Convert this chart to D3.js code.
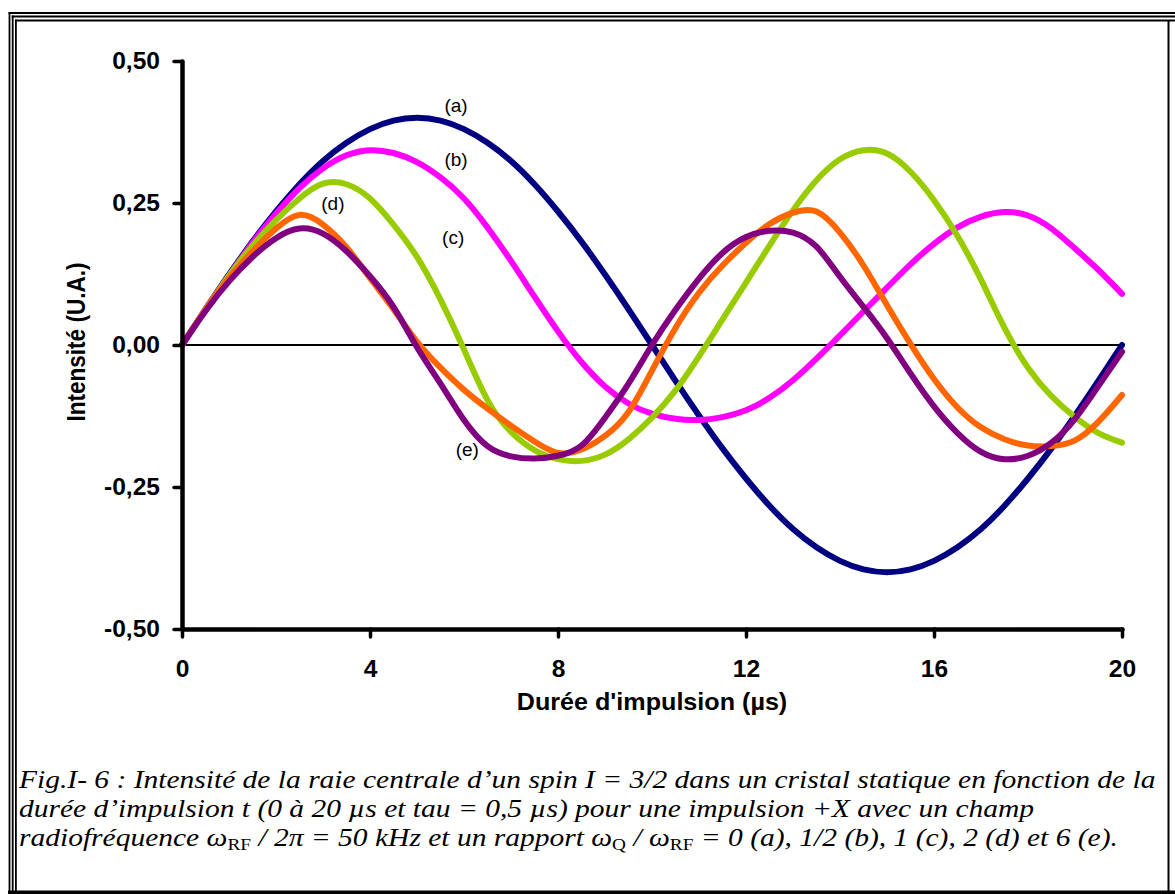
<!DOCTYPE html>
<html>
<head>
<meta charset="utf-8">
<script src="https://cdn.jsdelivr.net/npm/d3@7"></script>
<style>
body {margin:0; background:#fff;}
.axis text {font-family:"Liberation Sans",Arial,sans-serif; font-weight:bold; font-size:23px; fill:#000;}
.axis path, .axis line {stroke:#000;}
.axis_label {font-family:"Liberation Sans",Arial,sans-serif; font-weight:bold; font-size:23.5px; fill:#000;}
.curve_label {font-family:"Liberation Sans",Arial,sans-serif; font-size:19px; fill:#000;}
.caption {font-family:"Liberation Serif","Times New Roman",serif; font-style:italic; font-size:26px; fill:#000;}
</style>
</head>
<body>
<svg id="chart" width="1175" height="894"></svg>
<script>

// pulse length (µs)
var times=[0,0.5,1,1.5,2,2.5,3,3.5,4,4.5,5,5.5,6,6.5,7,7.5,8,8.5,9,9.5,10,
	10.5,11,11.5,12,12.5,13,13.5,14,14.5,15,15.5,16,16.5,17,17.5,18,18.5,19,19.5,20];

// wQ/wRF = 0
var series_a=[0,0.063,0.124,0.182,0.235,0.283,0.324,0.356,0.380,0.395,0.400,0.395,0.380,0.356,0.324,0.283,0.235,0.182,0.124,0.063,0,
	-0.063,-0.124,-0.182,-0.235,-0.283,-0.324,-0.356,-0.380,-0.395,-0.400,-0.395,-0.380,-0.356,-0.324,-0.283,-0.235,-0.182,-0.124,-0.063,0];
// wQ/wRF = 1/2
var series_b=[0,0.062,0.122,0.180,0.231,0.276,0.311,0.334,0.343,0.338,0.322,0.295,0.258,0.207,0.148,0.085,0.024,-0.030,-0.073,-0.103,-0.121,
	-0.130,-0.132,-0.127,-0.115,-0.093,-0.062,-0.024,0.017,0.059,0.101,0.142,0.178,0.207,0.226,0.234,0.228,0.205,0.170,0.132,0.090];
// wQ/wRF = 1
var series_c=[0,0.062,0.122,0.175,0.220,0.258,0.284,0.283,0.258,0.212,0.155,0.080,-0.008,-0.097,-0.153,-0.185,-0.201,-0.204,-0.193,-0.166,-0.128,
	-0.080,-0.020,0.045,0.110,0.175,0.237,0.290,0.327,0.343,0.337,0.305,0.255,0.192,0.115,0.030,-0.040,-0.090,-0.127,-0.155,-0.172];
// wQ/wRF = 2
var series_d=[0,0.062,0.118,0.165,0.205,0.229,0.212,0.172,0.118,0.063,0.006,-0.040,-0.079,-0.112,-0.142,-0.170,-0.190,-0.184,-0.160,-0.118,-0.045,
	0.030,0.092,0.140,0.180,0.213,0.233,0.235,0.198,0.140,0.070,0.002,-0.060,-0.110,-0.145,-0.166,-0.177,-0.178,-0.168,-0.135,-0.088];
// wQ/wRF = 6
var series_e=[0,0.060,0.112,0.155,0.188,0.205,0.196,0.165,0.121,0.067,-0.004,-0.068,-0.132,-0.178,-0.196,-0.200,-0.195,-0.177,-0.128,-0.068,0.000,
	0.062,0.117,0.162,0.190,0.201,0.198,0.173,0.120,0.067,0.012,-0.050,-0.108,-0.155,-0.188,-0.201,-0.195,-0.172,-0.130,-0.072,-0.012];

var series_colors=['#000080','#FF00FF','#99CC00','#FF6600','#800080'];

var curve_labels=['(a)','(b)','(c)','(d)','(e)'];
var curve_label_t=[5.83,5.83,5.77,3.21,6.07];
var curve_label_v=[0.422,0.326,0.190,0.250,-0.184];

var x_ticks=[0,4,8,12,16,20];
var y_ticks=[0.5,0.25,0,-0.25,-0.5];
var y_tick_labels=['0,50','0,25','0,00','-0,25','-0,50'];

var x_title='Durée d\'impulsion (µs)';
var y_title='Intensité (U.A.)';

var stretch=1.07; // the original text is a bit wider than Arial

var svg=d3.select('#chart');

// frame (triple line top/left)
var frame=svg.append('g');
var outer=[[9.5,13],[12.7,16.6],[15.9,20.4]];
for (var i=0; i<outer.length; i++) {
	frame.append('line').attr('x1',outer[i][0]-1).attr('y1',outer[i][1]).attr('x2',1175).attr('y2',outer[i][1])
		.attr('stroke','#000').attr('stroke-width',2);
	frame.append('line').attr('x1',outer[i][0]).attr('y1',outer[i][1]-1).attr('x2',outer[i][0]).attr('y2',894)
		.attr('stroke','#000').attr('stroke-width',1.8);
}
frame.append('line').attr('x1',8).attr('y1',892.5).attr('x2',1175).attr('y2',892.5)
	.attr('stroke','#000').attr('stroke-width',4);
frame.append('line').attr('x1',1168.5).attr('y1',20).attr('x2',1168.5).attr('y2',894)
	.attr('stroke','#000').attr('stroke-width',2);

var marg_left=182, marg_top=61;
var W0=940, H0=568;

var xScale=d3.scaleLinear().domain([0,20]).range([marg_left,marg_left+W0]);
var yScale=d3.scaleLinear().domain([-0.5,0.5]).range([marg_top+H0,marg_top]);

// zero line
svg.append('line')
	.attr('x1',xScale(0)).attr('x2',xScale(20)+3)
	.attr('y1',yScale(0)).attr('y2',yScale(0))
	.attr('stroke','#000').attr('stroke-width',2.2);

var all_series=[series_a,series_b,series_c,series_d,series_e];
var line=d3.line()
	.x(function(d) {return xScale(d.t);})
	.y(function(d) {return yScale(d.v);})
	.curve(d3.curveNatural);

for (var j=0; j<all_series.length; j++) {
	var pts=[];
	for (var i=0; i<times.length; i++) pts.push({t:times[i],v:all_series[j][i]});
	svg.append('path')
		.datum(pts)
		.attr('d',line)
		.attr('fill','none')
		.attr('stroke',series_colors[j])
		.attr('stroke-width',6)
		.attr('stroke-linecap','round')
		.attr('stroke-linejoin','round');
}

// axes
var xAxis=d3.axisBottom(xScale)
	.tickValues(x_ticks)
	.tickSizeInner(8).tickSizeOuter(0)
	.tickPadding(24)
	.tickFormat(function(d) {return d;});
var gx=svg.append('g')
	.attr('class','axis')
	.attr('transform','translate(0,'+(marg_top+H0)+')')
	.call(xAxis);

var yAxis=d3.axisLeft(yScale)
	.tickValues(y_ticks)
	.tickSizeInner(8).tickSizeOuter(0)
	.tickPadding(14)
	.tickFormat(function(d,i) {return y_tick_labels[i];});
var gy=svg.append('g')
	.attr('class','axis')
	.attr('transform','translate('+marg_left+',0)')
	.call(yAxis);

svg.selectAll('.axis path.domain').attr('stroke-width',4.5).attr('stroke-linecap','round');
svg.selectAll('.axis .tick line').attr('stroke-width',3.5).attr('stroke-linecap','round');
svg.selectAll('.axis .tick text').each(function() {
	var t=d3.select(this);
	var x0=+(t.attr('x')||0);
	t.attr('x',x0/stretch).attr('transform','scale('+stretch+',1)');
});

// axis titles
svg.append('text')
	.attr('class','axis_label')
	.attr('transform','translate(652,710) scale('+stretch+',1)')
	.style('text-anchor','middle')
	.text(x_title);

svg.append('text')
	.attr('class','axis_label')
	.attr('transform','translate(85,342) rotate(-90) scale(0.96,1.08)')
	.style('text-anchor','middle')
	.text(y_title);

// curve labels
for (var k=0; k<curve_labels.length; k++) {
	svg.append('text')
		.attr('class','curve_label')
		.attr('x',xScale(curve_label_t[k]))
		.attr('y',yScale(curve_label_v[k]))
		.attr('dy','0.35em')
		.style('text-anchor','middle')
		.text(curve_labels[k]);
}

// caption
var cap=svg.append('g').attr('class','caption').attr('transform','translate(19,0) scale(1.135,1)');
cap.append('text').attr('x',0).attr('y',788)
	.text('Fig.I- 6 : Intensité de la raie centrale d\u2019un spin I = 3/2 dans un cristal statique en fonction de la');
cap.append('text').attr('x',0).attr('y',817)
	.text('durée d\u2019impulsion t (0 à 20 \u00b5s et tau = 0,5 \u00b5s) pour une impulsion +X avec un champ');
var l3=cap.append('text').attr('x',0).attr('y',846);
l3.append('tspan').text('radiofréquence \u03c9');
l3.append('tspan').attr('font-size','17px').attr('font-style','normal').attr('dy',4).text('RF');
l3.append('tspan').attr('dy',-4).text(' / 2\u03c0 = 50 kHz et un rapport \u03c9');
l3.append('tspan').attr('font-size','17px').attr('font-style','normal').attr('dy',4).text('Q');
l3.append('tspan').attr('dy',-4).text(' / \u03c9');
l3.append('tspan').attr('font-size','17px').attr('font-style','normal').attr('dy',4).text('RF');
l3.append('tspan').attr('dy',-4).text(' = 0 (a), 1/2 (b), 1 (c), 2 (d) et 6 (e).');

</script>
</body>
</html>
